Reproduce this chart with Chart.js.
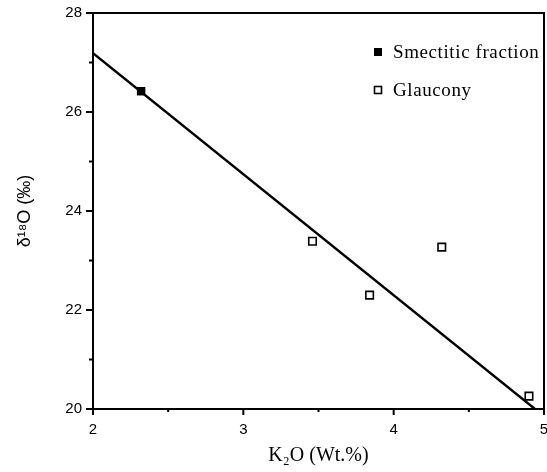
<!DOCTYPE html>
<html>
<head>
<meta charset="utf-8">
<script src="https://cdn.jsdelivr.net/npm/chart.js@4"></script>
<style>
  html, body { margin: 0; padding: 0; background: #fff; }
  #chart { display: block; }
</style>
</head>
<body>
<canvas id="chart" width="547" height="472"></canvas>
<script>
// data
const smectK2O = [2.32];
const smectD18O = [26.42];
const glaucK2O = [3.46, 3.84, 4.32, 4.90];
const glaucD18O = [23.39, 22.30, 23.27, 20.26];
const fitK2O = [2.0, 4.94];
const fitD18O = [27.19, 20.0];
const seriesNames = ['Smectitic fraction', 'Glaucony'];
const xTicks = [2, 3, 4, 5];
const xMinor = [2.5, 3.5, 4.5];
const yTicks = [20, 22, 24, 26, 28];
const yMinor = [21, 23, 25, 27];

function toPoints(xs, ys) {
    return xs.map((x, i) => ({ x: x, y: ys[i] }));
}

// axis box, tick marks and the legend
const framePlugin = {
    id: 'frame',
    afterDraw(chart) {
        const ctx = chart.ctx;
        const a = chart.chartArea;
        const xs = chart.scales.x, ys = chart.scales.y;
        ctx.save();
        ctx.strokeStyle = '#000';
        ctx.lineWidth = 2;
        ctx.strokeRect(a.left, a.top, a.right - a.left, a.bottom - a.top);

        ctx.beginPath();
        xTicks.forEach(v => { let p = xs.getPixelForValue(v); ctx.moveTo(p, a.bottom); ctx.lineTo(p, a.bottom + 6); });
        xMinor.forEach(v => { let p = xs.getPixelForValue(v); ctx.moveTo(p, a.bottom); ctx.lineTo(p, a.bottom + 3); });
        yTicks.forEach(v => { let p = ys.getPixelForValue(v); ctx.moveTo(a.left, p); ctx.lineTo(a.left - 7, p); });
        yMinor.forEach(v => { let p = ys.getPixelForValue(v); ctx.moveTo(a.left, p); ctx.lineTo(a.left - 4, p); });
        ctx.stroke();

        // legend
        const rows = [52, 90];
        ctx.font = '19px "Liberation Serif", serif';
        ctx.letterSpacing = '0.6px';
        ctx.textBaseline = 'middle';
        ctx.fillStyle = '#000';
        [0, 1].forEach(i => {
            const ds = chart.data.datasets[i];
            const y = rows[i];
            if (ds.pointBackgroundColor === '#000') {
                ctx.fillRect(374, y - 4, 8, 8);
            } else {
                ctx.lineWidth = 1.6;
                ctx.strokeRect(374.5, y - 3.5, 7, 7);
            }
            ctx.fillText(ds.label, 393, y + 1);
        });
        ctx.restore();
    }
};

new Chart(document.getElementById('chart'), {
    type: 'scatter',
    data: {
        datasets: [
            {
                label: seriesNames[0],
                data: toPoints(smectK2O, smectD18O),
                pointStyle: 'rect',
                pointRadius: 6,
                pointBackgroundColor: '#000',
                pointBorderColor: '#000',
                pointBorderWidth: 0,
                order: 0
            },
            {
                label: seriesNames[1],
                data: toPoints(glaucK2O, glaucD18O),
                pointStyle: 'rect',
                pointRadius: 5.3,
                pointBackgroundColor: '#fff',
                pointBorderColor: '#000',
                pointBorderWidth: 1.6,
                order: 0
            },
            {
                type: 'line',
                label: 'fit',
                data: toPoints(fitK2O, fitD18O),
                borderColor: '#000',
                borderWidth: 2.4,
                pointRadius: 0,
                fill: false,
                order: 1
            }
        ]
    },
    options: {
        responsive: false,
        animation: false,
        layout: { autoPadding: false, padding: { top: 13, right: 3, left: 0, bottom: 0 } },
        plugins: {
            legend: { display: false },
            tooltip: { enabled: false }
        },
        scales: {
            x: {
                type: 'linear',
                min: 2,
                max: 5,
                afterFit(s) { s.height = 63; s.paddingLeft = 0; s.paddingRight = 0; },
                grid: { display: false, drawTicks: false },
                border: { display: false },
                ticks: {
                    stepSize: 1,
                    padding: 12,
                    color: '#000',
                    font: { family: '"Liberation Sans", Arial, sans-serif', size: 15 }
                },
                title: {
                    display: true,
                    text: 'K₂O (Wt.%)',
                    color: '#000',
                    padding: { top: 8 },
                    font: { family: '"Liberation Serif", serif', size: 20 }
                }
            },
            y: {
                type: 'linear',
                min: 20,
                max: 28,
                afterFit(s) { s.width = 93; s.paddingTop = 0; s.paddingBottom = 0; },
                grid: { display: false, drawTicks: false },
                border: { display: false },
                ticks: {
                    stepSize: 2,
                    padding: 11,
                    color: '#000',
                    font: { family: '"Liberation Sans", Arial, sans-serif', size: 15 }
                },
                title: {
                    display: true,
                    text: 'δ¹⁸O (‰)',
                    color: '#000',
                    padding: { bottom: 0, top: 14 },
                    font: { family: '"Liberation Sans", Arial, sans-serif', size: 18 }
                }
            }
        }
    },
    plugins: [framePlugin]
});
</script>
</body>
</html>
